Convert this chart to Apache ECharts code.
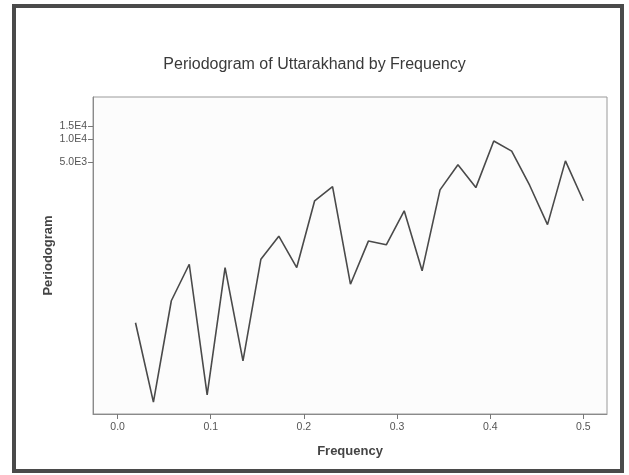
<!DOCTYPE html>
<html>
<head>
<meta charset="utf-8">
<script src="https://cdn.jsdelivr.net/npm/echarts@6/dist/echarts.min.js"></script>
<style>
  html, body { margin: 0; padding: 0; background: #ffffff; }
  #chart { width: 629px; height: 475px; }
</style>
</head>
<body>
<div id="chart"></div>
<script>
// Periodogram ordinates at Fourier frequencies k/52, k = 1..26
const frequencies = [
  1/52, 2/52, 3/52, 4/52, 5/52, 6/52, 7/52, 8/52, 9/52, 10/52,
  11/52, 12/52, 13/52, 14/52, 15/52, 16/52, 17/52, 18/52, 19/52, 20/52,
  21/52, 22/52, 23/52, 24/52, 25/52, 26/52
];
const periodogram = [
  39.6, 3.6, 77, 232, 4.5, 210, 12.5, 270, 541, 210,
  1577, 2420, 127, 467, 417, 1166, 190, 2190, 4680, 2347,
  9590, 7050, 2520, 767, 5260, 1577
];
const xTicks = [0, 0.1, 0.2, 0.3, 0.4, 0.5];
const yTicks = [5000, 10000, 15000];
const yTickLabels = ['5.0E3', '1.0E4', '1.5E4'];

const font = 'Liberation Sans, Arial, sans-serif';
const chart = echarts.init(document.getElementById('chart'), null, { renderer: 'canvas' });

const points = frequencies.map((f, i) => [f, periodogram[i]]);

function yLabel(v) {
  let val = v;
  if (val < 10) val = Math.pow(10, val);
  let best = 0, bestD = Infinity;
  yTicks.forEach((t, i) => { const d = Math.abs(t - val); if (d < bestD) { bestD = d; best = i; } });
  return yTickLabels[best];
}

chart.setOption({
  animation: false,
  backgroundColor: '#ffffff',
  title: {
    text: 'Periodogram of Uttarakhand by Frequency',
    left: 'center',
    top: 52,
    textStyle: { fontFamily: font, fontSize: 16, fontWeight: 'normal', color: '#3a3a3a' }
  },
  graphic: [{
    type: 'rect',
    shape: { x: 14, y: 6, width: 608, height: 465 },
    style: { fill: null, stroke: '#4a4a4a', lineWidth: 4 },
    silent: true
  }],
  grid: {
    left: 93, top: 97, right: 22, bottom: 61,
    show: true, borderColor: '#9a9a9a', borderWidth: 1, backgroundColor: '#fcfcfc'
  },
  xAxis: {
    type: 'value',
    min: -0.0264, max: 0.5254,
    name: 'Frequency',
    nameLocation: 'middle',
    nameGap: 31,
    nameTextStyle: { fontFamily: font, fontSize: 13, fontWeight: 'bold', color: '#444' },
    axisLine: { show: true, onZero: false, lineStyle: { color: '#8a8a8a', width: 1 } },
    axisTick: { show: true, customValues: xTicks, length: 5, lineStyle: { color: '#777' } },
    axisLabel: {
      customValues: xTicks,
      formatter: v => v.toFixed(1),
      fontFamily: font, fontSize: 10.5, color: '#555', margin: 8
    },
    splitLine: { show: false }
  },
  yAxis: {
    type: 'log',
    min: 2.52, max: 36200,
    name: 'Periodogram',
    nameLocation: 'middle',
    nameGap: 38,
    nameMoveOverlap: false,
    nameTextStyle: { fontFamily: font, fontSize: 13, fontWeight: 'bold', color: '#444' },
    axisLine: { show: true, onZero: false, lineStyle: { color: '#8a8a8a', width: 1 } },
    axisTick: { show: true, customValues: yTicks, length: 5, lineStyle: { color: '#777' } },
    axisLabel: {
      customValues: yTicks,
      formatter: yLabel,
      fontFamily: font, fontSize: 10.5, color: '#555', margin: 6
    },
    splitLine: { show: false }
  },
  series: [{
    type: 'line',
    data: points,
    showSymbol: false,
    symbol: 'none',
    lineStyle: { color: '#4a4a4a', width: 1.6 }
  }]
});
</script>
</body>
</html>
